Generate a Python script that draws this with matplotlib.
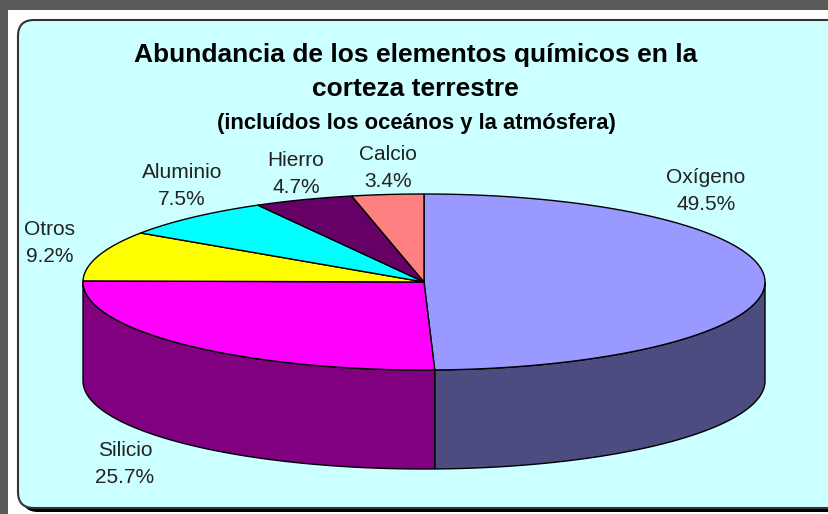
import numpy as np
import matplotlib
matplotlib.use("Agg")
import matplotlib.pyplot as plt
from matplotlib.patches import Polygon, Rectangle, FancyBboxPatch

# data
elementos = ["Oxígeno", "Silicio", "Otros", "Aluminio", "Hierro", "Calcio"]
porcentajes = [49.5, 25.7, 9.2, 7.5, 4.7, 3.4]
colores_top = ["#9999FF", "#FF00FF", "#FFFF00", "#00FFFF", "#660066", "#FF8080"]
colores_lado = ["#4C4C80", "#800080", "#808000", "#008080", "#330033", "#804040"]

titulo = "Abundancia de los elementos químicos en la\ncorteza terrestre"
subtitulo = "(incluídos los oceános y la atmósfera)"

# label positions (pixel coords of the picture)
pos_etiquetas = [(706, 191), (125, 464), (50, 243), (182, 186), (296, 174), (388, 168)]

# 3d pie geometry in pixels
cx, cy = 424, 282
a, b = 341, 88
depth = 99

W, H = 829, 514
fig = plt.figure(figsize=(W / 100, H / 100), dpi=100)
fig.patch.set_facecolor("#595959")
ax = fig.add_axes([0, 0, 1, 1])
ax.set_xlim(0, W)
ax.set_ylim(H, 0)
ax.axis("off")

# frame: white margin, shadow and rounded box
ax.add_patch(Rectangle((8, 10), W, H, facecolor="white", edgecolor="none"))
ax.add_patch(FancyBboxPatch((22, 24), 830, 488, boxstyle="round,pad=0,rounding_size=16",
                            facecolor="black", edgecolor="none"))
ax.add_patch(FancyBboxPatch((18, 20), 830, 488, boxstyle="round,pad=0,rounding_size=16",
                            facecolor="#CCFFFF", edgecolor="#333333", linewidth=1.5))


def ell(theta, dy=0.0):
    t = np.radians(theta)
    return np.column_stack([cx + a * np.sin(t), cy - b * np.cos(t) + dy])


fracs = np.array(porcentajes) / sum(porcentajes)
ends = np.cumsum(fracs) * 360
starts = ends - fracs * 360

# side walls (front half only, 90..270 deg clockwise from top)
for s, e, c in zip(starts, ends, colores_lado):
    lo, hi = max(s, 90), min(e, 270)
    if lo >= hi:
        continue
    t = np.linspace(lo, hi, 100)
    pts = np.vstack([ell(t), ell(t[::-1], depth)])
    ax.add_patch(Polygon(pts, closed=True, facecolor=c, edgecolor="black", linewidth=1))

# top faces
for s, e, c in zip(starts, ends, colores_top):
    t = np.linspace(s, e, 200)
    pts = np.vstack([[cx, cy], ell(t)])
    ax.add_patch(Polygon(pts, closed=True, facecolor=c, edgecolor="black", linewidth=1))

# titles
ax.text(W / 2 + 1, 72, titulo, ha="center", va="center", fontsize=19,
        fontweight="bold", family="Liberation Sans", linespacing=1.55)
ax.text(W / 2 + 2, 123, subtitulo, ha="center", va="center", fontsize=15.8,
        fontweight="bold", family="Liberation Sans")

# labels
for nombre, p, (x, y) in zip(elementos, porcentajes, pos_etiquetas):
    ax.text(x, y, f"{nombre}\n{p:.1f}%", ha="center", va="center", fontsize=15,
            family="Liberation Sans", color="#222222", linespacing=1.5)

fig.savefig("out.png", dpi=100, facecolor=fig.get_facecolor())
